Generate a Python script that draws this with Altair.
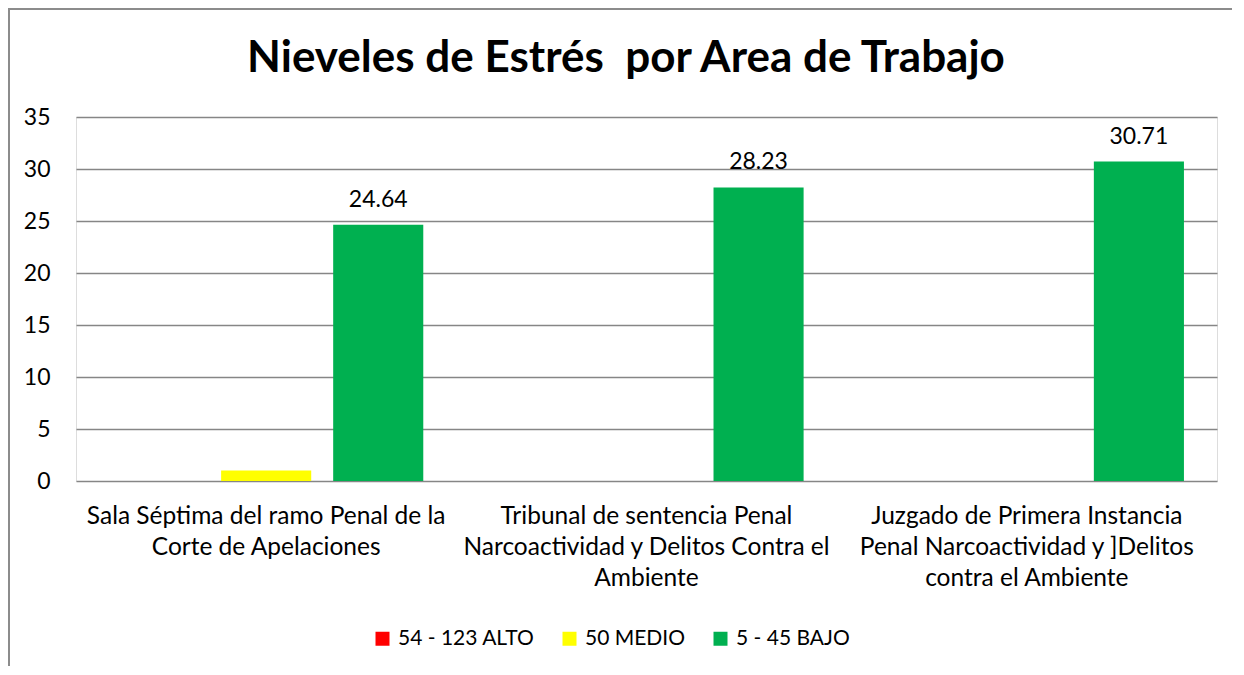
import altair as alt
import pandas as pd

TITLE = "Nieveles de Estrés\u00a0 por Area de Trabajo"
categories = [
    "Sala Séptima del ramo Penal de la|Corte de Apelaciones",
    "Tribunal de sentencia Penal|Narcoactividad y Delitos Contra el|Ambiente",
    "Juzgado de Primera Instancia|Penal Narcoactividad y ]Delitos|contra el Ambiente",
]
series = ["54 - 123 ALTO", "50 MEDIO", "5 - 45 BAJO"]
colors = ["#FF0000", "#FFFF00", "#00B050"]
alto = [0, 0, 0]
medio = [1.0, 0, 0]
bajo = [24.64, 28.23, 30.71]
y_ticks = [0, 5, 10, 15, 20, 25, 30, 35]

rows = []
for i, c in enumerate(categories):
    for s, vals in zip(series, [alto, medio, bajo]):
        rows.append({"cat": c, "serie": s, "valor": vals[i],
                     "etiqueta": f"{vals[i]:.2f}" if s == series[2] else ""})
df = pd.DataFrame(rows)

FONT = "Lato"
W, H = 1141, 364

x = alt.X("cat:N", sort=categories, title=None,
          scale=alt.Scale(paddingInner=0, paddingOuter=0),
          axis=alt.Axis(labelExpr="split(datum.label, '|')", labelAngle=0,
                        labelFontSize=24.5, labelLineHeight=31, labelPadding=23,
                        ticks=False, domain=False, labelColor="#000000",
                        labelFont=FONT, labelLimit=420))
xo = alt.XOffset("serie:N", sort=series,
                 scale=alt.Scale(paddingInner=0.196, paddingOuter=0.295))
y = alt.Y("valor:Q", title=None,
          scale=alt.Scale(domain=[0, 35], nice=False),
          axis=alt.Axis(values=y_ticks, labelFontSize=23, labelPadding=26,
                        ticks=False, domain=False, grid=True,
                        gridColor="#868686", gridWidth=1.5,
                        labelColor="#000000", labelFont=FONT))

bars = alt.Chart(df).mark_bar().encode(
    x=x, xOffset=xo, y=y,
    color=alt.Color("serie:N", sort=series,
                    scale=alt.Scale(domain=series, range=colors),
                    legend=alt.Legend(title=None, orient="none", direction="horizontal",
                                      legendX=296, legendY=511,
                                      symbolType="square", symbolSize=196,
                                      symbolStrokeWidth=0,
                                      labelFontSize=21, labelFont=FONT,
                                      labelColor="#000000", columnPadding=24,
                                      labelOffset=5)),
)

labels = alt.Chart(df).mark_text(baseline="bottom", dy=-13, fontSize=23,
                                 font=FONT, color="#000000").encode(
    x=alt.X("cat:N", sort=categories),
    xOffset=alt.XOffset("serie:N", sort=series),
    y="valor:Q",
    text="etiqueta:N",
)

border = alt.Chart(df).mark_rect(fill=None, stroke="#8C8C8C", strokeWidth=2).encode(
    x=alt.value(-67), x2=alt.value(W + 60),
    y=alt.value(-108), y2=alt.value(H + 240),
)

title = alt.Chart(pd.DataFrame({"t": [TITLE]})).mark_text(
    fontSize=44, font=FONT, fontWeight="bold", color="#000000",
    align="center", baseline="alphabetic",
).encode(x=alt.value(550), y=alt.value(-45), text="t:N")

chart = alt.layer(border, bars, labels, title).properties(
    width=W, height=H,
    autosize=alt.AutoSizeParams(type="none"),
    padding={"left": 68, "top": 109, "right": 15, "bottom": 185},
).configure_view(stroke=None).configure(background="white")

chart.save("out.html", embed_options={"renderer": "svg", "actions": False})
